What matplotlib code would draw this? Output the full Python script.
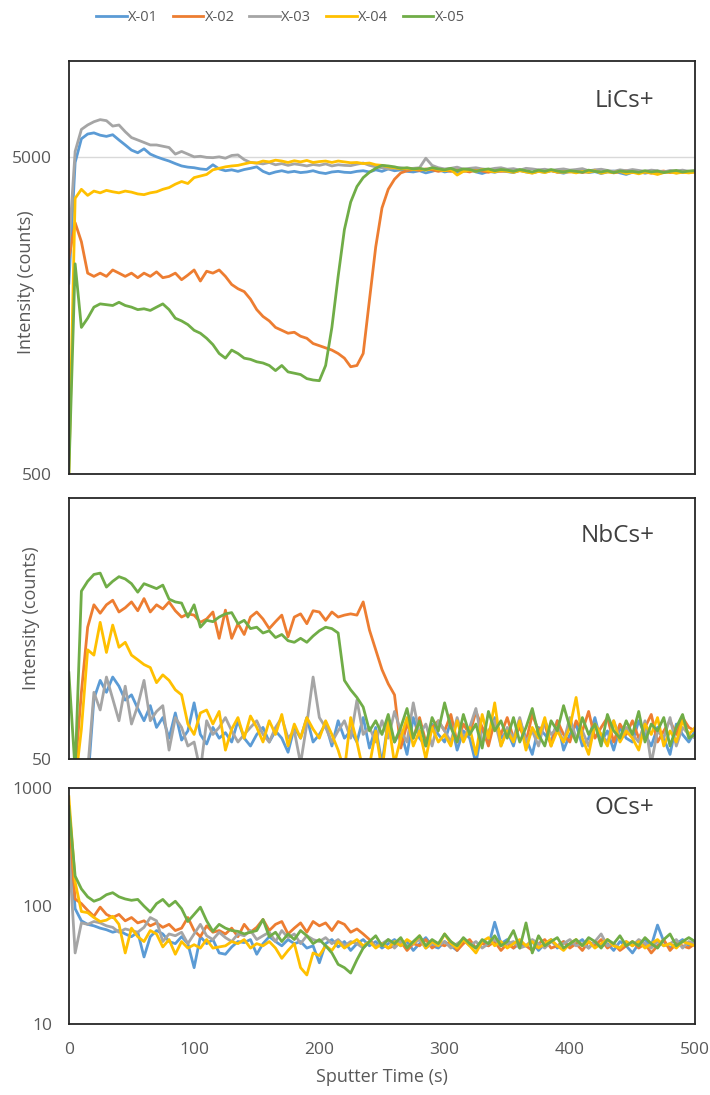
import matplotlib.pyplot as plt
from matplotlib.ticker import FixedLocator, FixedFormatter, NullLocator

plt.rcParams['font.family'] = ['Open Sans', 'DejaVu Sans']

# sputter time, one sample every 5 s
time_s = list(range(0, 505, 5))

samples = ['X-01', 'X-02', 'X-03', 'X-04', 'X-05']
colors = ['#5B9BD5', '#ED7D31', '#A5A5A5', '#FFC000', '#70AD47']

# ---- LiCs+ ----
li_x01 = [2000, 4800, 5700, 5900, 5950, 5850, 5800, 5870, 5650, 5450,
          5250, 5150, 5300, 5100, 5000, 4920, 4850, 4760, 4680, 4640,
          4620, 4580, 4560, 4720, 4580, 4520, 4550, 4500, 4560, 4600,
          4650, 4500, 4420, 4480, 4520, 4470, 4500, 4460, 4480, 4520,
          4460, 4430, 4480, 4500, 4470, 4460, 4500, 4520, 4480, 4550,
          4500, 4580, 4520, 4550, 4500, 4480, 4520, 4450, 4500, 4560,
          4480, 4520, 4460, 4500, 4550, 4480, 4430, 4500, 4470, 4520,
          4490, 4460, 4530, 4480, 4450, 4500, 4470, 4520, 4480, 4440,
          4500, 4470, 4520, 4460, 4490, 4430, 4480, 4510, 4450, 4400,
          4470, 4500, 4440, 4480, 4420, 4470, 4490, 4450, 4480, 4460,
          4500]
li_x02 = [2400, 3100, 2700, 2150, 2100, 2150, 2100, 2200, 2150, 2100,
          2150, 2080, 2150, 2100, 2170, 2080, 2100, 2150, 2050, 2120,
          2200, 2030, 2180, 2150, 2200, 2100, 1980, 1920, 1880, 1780,
          1650, 1570, 1520, 1450, 1420, 1390, 1400, 1360, 1340, 1290,
          1270, 1250, 1230, 1200, 1160, 1090, 1100, 1200, 1770, 2600,
          3450, 3950, 4250, 4450, 4520, 4560, 4530, 4580, 4550, 4500,
          4540, 4500, 4560, 4520, 4480, 4550, 4510, 4470, 4530, 4500,
          4520, 4480, 4540, 4500, 4460, 4510, 4490, 4530, 4470, 4500,
          4480, 4520, 4460, 4500, 4540, 4470, 4500, 4450, 4490, 4520,
          4460, 4500, 4480, 4440, 4490, 4510, 4460, 4500, 4470, 4490,
          4470]
li_x03 = [2600, 5200, 6100, 6300, 6450, 6550, 6500, 6250, 6300, 6000,
          5750, 5650, 5550, 5450, 5450, 5400, 5350, 5100, 5200, 5100,
          5000, 5020, 4980, 4970, 5000, 4950, 5050, 5070, 4900, 4800,
          4780, 4750, 4800, 4720, 4760, 4700, 4750, 4720, 4680, 4730,
          4700, 4750, 4680, 4720, 4700, 4690, 4740, 4780, 4700, 4650,
          4620, 4580, 4600, 4620, 4580, 4600, 4620, 4950, 4700, 4620,
          4580, 4600, 4640, 4570, 4600, 4620, 4580, 4560, 4600, 4620,
          4570, 4590, 4540, 4600, 4580, 4550, 4570, 4530, 4560, 4580,
          4540, 4560, 4590, 4520, 4550, 4570, 4530, 4500, 4550, 4520,
          4560, 4530, 4500, 4540, 4520, 4480, 4530, 4510, 4540, 4500,
          4520]
li_x04 = [500, 3700, 3950, 3780, 3900, 3850, 3920, 3880, 3850, 3900,
          3870, 3820, 3800, 3850, 3880, 3950, 4000, 4100, 4180, 4120,
          4300, 4350, 4400, 4550, 4600, 4650, 4680, 4700, 4750, 4800,
          4780, 4850, 4820, 4880, 4850, 4800, 4860, 4820, 4870, 4800,
          4830, 4850, 4800, 4850, 4820, 4790, 4800, 4760, 4780, 4720,
          4700, 4650, 4620, 4580, 4600, 4560, 4580, 4540, 4600, 4560,
          4520, 4560, 4380, 4500, 4540, 4500, 4560, 4520, 4480, 4530,
          4500, 4470, 4520, 4480, 4440, 4500, 4460, 4520, 4480, 4470,
          4490, 4450, 4500, 4470, 4520, 4440, 4480, 4460, 4500, 4430,
          4470, 4420, 4480, 4450, 4400, 4460, 4480, 4440, 4470, 4450,
          4480]
li_x05 = [500, 2300, 1450, 1550, 1680, 1720, 1710, 1700, 1740, 1700,
          1680, 1650, 1660, 1640, 1680, 1720, 1650, 1550, 1520, 1480,
          1420, 1390, 1340, 1280, 1200, 1160, 1230, 1200, 1160, 1150,
          1130, 1120, 1100, 1060, 1100, 1050, 1040, 1030, 1000, 990,
          985, 1100, 1450, 2100, 2950, 3600, 4030, 4300, 4470, 4600,
          4700, 4680, 4650, 4600, 4620, 4580, 4600, 4560, 4620, 4580,
          4550, 4600, 4520, 4580, 4560, 4500, 4550, 4580, 4520, 4560,
          4540, 4500, 4560, 4520, 4480, 4540, 4500, 4560, 4510, 4480,
          4520, 4500, 4470, 4540, 4500, 4480, 4520, 4460, 4510, 4490,
          4500, 4470, 4520, 4480, 4510, 4460, 4500, 4530, 4480, 4510,
          4520]

# ---- NbCs+ ----
nb_x01 = [40, 40, 40, 40, 85, 100, 90, 103, 95, 84,
          88, 78, 70, 80, 66, 72, 60, 75, 59, 64,
          82, 62, 57, 66, 60, 63, 58, 70, 60, 56,
          62, 66, 58, 64, 60, 53, 66, 60, 72, 58,
          62, 68, 56, 70, 60, 64, 58, 72, 55, 66,
          48, 70, 58, 64, 52, 72, 60, 56, 68, 62,
          58, 70, 54, 64, 60, 48, 66, 58, 72, 60,
          64, 56, 70, 60, 52, 66, 62, 58, 70, 54,
          62, 68, 56, 60, 72, 58, 64, 54, 66, 60,
          58, 70, 62, 56, 66, 60, 52, 68, 62, 58,
          64]
nb_x02 = [45, 45, 90, 160, 195, 181, 195, 203, 183, 190,
          200, 185, 206, 183, 195, 188, 200, 185, 175, 180,
          178, 167, 172, 183, 145, 186, 145, 165, 150, 175,
          183, 172, 158, 168, 178, 147, 175, 180, 165, 185,
          183, 170, 183, 175, 178, 180, 178, 200, 156, 131,
          110, 97, 88, 55, 68, 60, 72, 58, 66, 70,
          64, 74, 58, 68, 62, 76, 66, 56, 70, 62,
          72, 60, 66, 58, 74, 64, 68, 56, 70, 62,
          58, 70, 64, 76, 60, 66, 72, 58, 68, 62,
          70, 60, 66, 74, 58, 64, 70, 62, 72, 66,
          64]
nb_x03 = [40, 40, 40, 45, 90, 77, 103, 85, 70, 95,
          68, 80, 100, 70, 76, 80, 54, 72, 66, 56,
          58, 45, 70, 62, 66, 72, 64, 58, 62, 66,
          70, 62, 58, 66, 72, 60, 64, 48, 68, 103,
          72, 66, 58, 64, 70, 60, 84, 62, 66, 58,
          70, 60, 76, 64, 58, 82, 62, 68, 56, 70,
          64, 58, 72, 60, 66, 78, 58, 64, 70, 56,
          66, 60, 72, 58, 64, 56, 70, 62, 66, 58,
          72, 60, 64, 56, 68, 62, 58, 70, 60, 66,
          62, 58, 70, 48, 64, 60, 72, 56, 66, 62,
          60]
nb_x04 = [40, 40, 65, 131, 125, 167, 128, 163, 134, 140,
          125, 120, 115, 112, 98, 105, 100, 92, 88, 68,
          62, 75, 77, 68, 76, 54, 65, 72, 60, 73,
          66, 58, 70, 62, 74, 56, 68, 60, 72, 65,
          60, 70, 62, 54, 45, 72, 58, 45, 47, 64,
          45, 70, 48, 60, 72, 56, 64, 50, 66, 58,
          62, 56, 70, 58, 66, 52, 74, 60, 82, 56,
          64, 58, 70, 54, 66, 60, 72, 56, 64, 58,
          66, 86, 60, 52, 68, 62, 56, 70, 58, 64,
          60, 54, 68, 62, 72, 56, 64, 58, 70, 62,
          66]
nb_x05 = [107, 45, 220, 240, 255, 258, 228, 240, 250, 245,
          235, 218, 235, 230, 225, 232, 205, 200, 198, 175,
          195, 160, 170, 168, 175, 180, 182, 165, 170, 158,
          160, 152, 155, 146, 150, 142, 140, 145, 140, 148,
          155, 160, 158, 152, 100, 92, 86, 79, 64, 70,
          62, 74, 58, 66, 78, 60, 70, 56, 72, 64,
          82, 66, 58, 74, 62, 68, 55, 76, 64, 70,
          60, 72, 58, 66, 78, 62, 56, 70, 64, 80,
          66, 58, 72, 62, 68, 56, 74, 64, 60, 70,
          62, 76, 58, 68, 64, 72, 56, 66, 74, 60,
          62]

# ---- OCs+ ----
oc_x01 = [500, 95, 75, 70, 68, 65, 63, 60, 62, 58,
          55, 60, 37, 55, 62, 58, 50, 48, 55, 48,
          30, 55, 48, 52, 40, 39, 45, 50, 49, 52,
          39, 48, 55, 50, 46, 52, 48, 50, 44, 46,
          33, 48, 52, 45, 50, 42, 48, 52, 46, 50,
          44, 48, 52, 46, 50, 42, 48, 54, 46, 44,
          50, 46, 42, 52, 48, 44, 50, 46, 73, 48,
          52, 44, 48, 46, 50, 42, 48, 52, 44, 50,
          46, 48, 52, 44, 50, 46, 48, 42, 50, 46,
          40, 48, 52, 46, 69, 50, 44, 48, 52, 46,
          50]
oc_x02 = [450, 115, 105, 92, 82, 98, 85, 80, 85, 75,
          80, 72, 75, 68, 72, 66, 70, 62, 65, 80,
          62, 55, 68, 60, 62, 58, 65, 55, 70, 60,
          66, 77, 62, 70, 74, 58, 65, 72, 60, 74,
          68, 72, 62, 74, 70, 60, 64, 58, 52, 45,
          48, 44, 46, 50, 42, 48, 46, 52, 44, 48,
          46, 50, 42, 48, 52, 44, 48, 46, 50, 42,
          48, 44, 50, 46, 42, 48, 52, 44, 46, 50,
          44, 48, 42, 50, 46, 52, 44, 48, 42, 46,
          50, 44, 48, 40, 46, 52, 42, 48, 46, 44,
          48]
oc_x03 = [300, 40, 72, 70, 74, 72, 68, 66, 60, 64,
          62, 60, 66, 80, 75, 50, 58, 56, 60, 48,
          58, 70, 56, 52, 60, 54, 50, 58, 56, 62,
          52, 56, 60, 50, 62, 54, 58, 48, 56, 52,
          50, 54, 48, 52, 46, 50, 48, 44, 50, 46,
          48, 52, 44, 50, 46, 48, 52, 44, 48, 46,
          50, 44, 48, 52, 46, 50, 44, 48, 52, 46,
          48, 50, 44, 46, 52, 48, 44, 50, 46, 48,
          52, 46, 48, 44, 50, 58, 46, 48, 44, 50,
          46, 52, 48, 44, 50, 46, 48, 52, 44, 50,
          48]
oc_x04 = [850, 160, 90, 88, 80, 74, 76, 82, 70, 40,
          65, 55, 50, 62, 58, 45, 52, 39, 50, 44,
          47, 44, 52, 44, 45, 46, 50, 48, 52, 44,
          48, 46, 50, 44, 36, 42, 48, 30, 26, 40,
          38, 46, 42, 50, 44, 48, 52, 46, 50, 44,
          48, 44, 50, 46, 52, 48, 56, 44, 50, 46,
          58, 48, 44, 52, 46, 40, 50, 54, 46, 50,
          44, 48, 52, 46, 50, 44, 48, 52, 46, 42,
          48, 52, 46, 50, 44, 48, 52, 46, 44, 50,
          46, 50, 44, 48, 52, 46, 48, 44, 50, 48,
          46]
oc_x05 = [700, 180, 140, 120, 110, 115, 125, 130, 120, 115,
          112, 114, 100, 89, 105, 114, 100, 110, 95, 74,
          85, 98, 75, 61, 70, 65, 62, 61, 58, 60,
          62, 77, 55, 60, 50, 58, 52, 62, 56, 48,
          52, 46, 40, 32, 30, 27, 35, 44, 50, 56,
          46, 52, 48, 54, 44, 50, 56, 46, 52, 48,
          58, 50, 46, 54, 48, 44, 52, 48, 56, 46,
          50, 62, 44, 72, 40, 56, 46, 50, 54, 44,
          48, 52, 46, 54, 50, 44, 52, 48, 56, 46,
          50, 46, 54, 48, 44, 52, 58, 46, 50, 54,
          50]

panels = [
    ('LiCs+', [li_x01, li_x02, li_x03, li_x04, li_x05], (500, 10000), [500, 5000]),
    ('NbCs+', [nb_x01, nb_x02, nb_x03, nb_x04, nb_x05], (50, 500), [50]),
    ('OCs+', [oc_x01, oc_x02, oc_x03, oc_x04, oc_x05], (10, 1000), [10, 100, 1000]),
]

# axes boxes in figure fractions (left, bottom, width, height)
boxes = [
    (0.097, 0.567, 0.882, 0.377),
    (0.097, 0.307, 0.882, 0.238),
    (0.097, 0.065, 0.882, 0.215),
]
label_pos = [(0.935, 0.905), (0.935, 0.855), (0.935, 0.915)]

text_gray = '#595959'
fig = plt.figure(figsize=(7.10, 10.95), dpi=100)

axes = []
for (name, series, ylim, yticks), box, lpos in zip(panels, boxes, label_pos):
    ax = fig.add_axes(box)
    for s, c, lab in zip(series, colors, samples):
        ax.plot(time_s, s, color=c, lw=2.0, label=lab, solid_joinstyle='round')
    ax.set_yscale('log')
    ax.set_ylim(*ylim)
    ax.set_xlim(0, 500)
    ax.yaxis.set_major_locator(FixedLocator(yticks))
    ax.yaxis.set_major_formatter(FixedFormatter([str(v) for v in yticks]))
    ax.yaxis.set_minor_locator(NullLocator())
    ax.tick_params(axis='both', length=0, labelsize=12.5, labelcolor=text_gray)
    ax.tick_params(axis='y', pad=12)
    ax.tick_params(axis='x', pad=13)
    for sp in ax.spines.values():
        sp.set_color('#262626')
        sp.set_linewidth(1.3)
    ax.text(lpos[0], lpos[1], name, transform=ax.transAxes, ha='right', va='center',
            fontsize=17.5, color='#404040')
    axes.append(ax)

# only the top panel carries a gridline, at 5000
axes[0].axhline(5000, color='#D9D9D9', lw=1.0, zorder=0)

axes[0].set_xticklabels([])
axes[1].set_xticklabels([])
axes[2].set_xticks([0, 100, 200, 300, 400, 500])
axes[2].set_xlabel('Sputter Time (s)', fontsize=13, color=text_gray, labelpad=7)

axes[0].set_ylabel('Intensity (counts)', fontsize=13, color=text_gray)
axes[0].yaxis.set_label_coords(-0.054, 0.465)
axes[1].set_ylabel('Intensity (counts)', fontsize=13, color=text_gray)
axes[1].yaxis.set_label_coords(-0.046, 0.54)

handles, labels = axes[0].get_legend_handles_labels()
fig.legend(handles, labels, loc='center', bbox_to_anchor=(0.395, 0.9836), ncol=5,
           frameon=False, fontsize=10.5, handlelength=2.1, handletextpad=0.1,
           columnspacing=1.0, labelcolor=text_gray)

fig.savefig('out.png', dpi=100)
